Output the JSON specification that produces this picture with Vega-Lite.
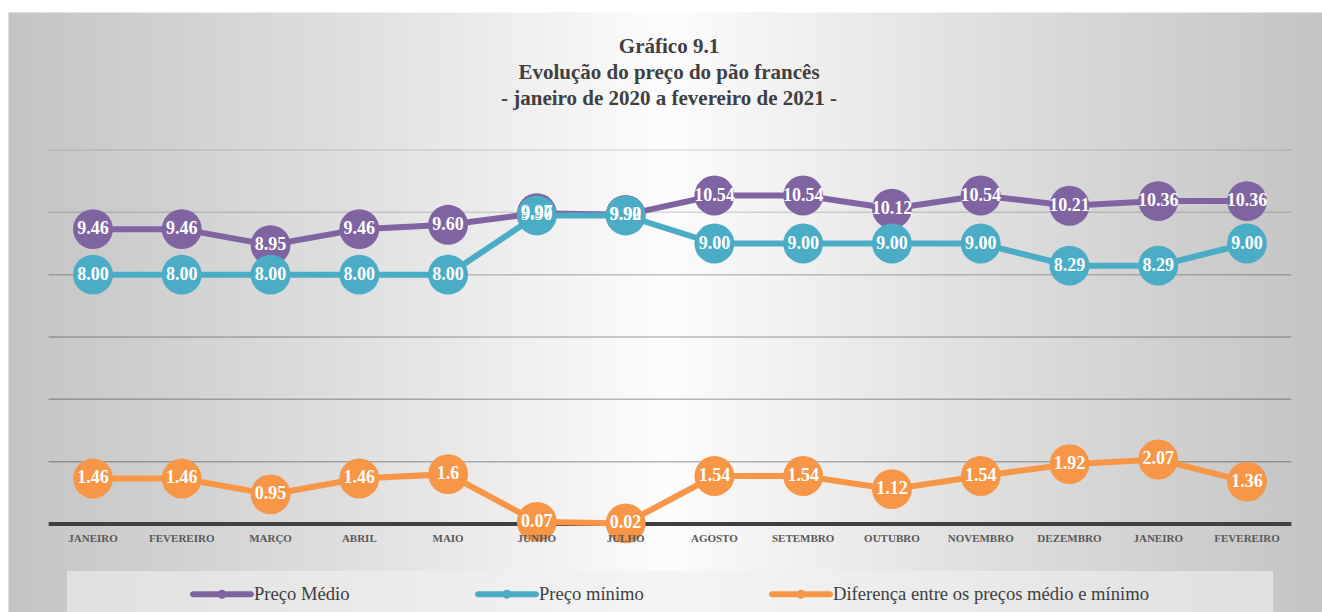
{
  "$schema": "https://vega.github.io/schema/vega-lite/v6.json",
  "width": 1314,
  "height": 600,
  "autosize": {"type": "none"},
  "padding": {"left": 8, "top": 12, "right": 0, "bottom": 0},
  "background": "#ffffff",
  "config": {
    "view": {
      "fill": {"gradient": "linear", "x1": 0, "y1": 0, "x2": 1, "y2": 0,
        "stops": [
          {"offset": 0, "color": "#c4c4c4"},
          {"offset": 0.25, "color": "#dedede"},
          {"offset": 0.5, "color": "#fcfcfc"},
          {"offset": 0.75, "color": "#dedede"},
          {"offset": 1, "color": "#c4c4c4"}
        ]},
      "stroke": "transparent"
    },
    "font": "Liberation Serif"
  },
  "title": {
    "text": ["Gráfico 9.1", "Evolução do preço do pão francês", "- janeiro de 2020 a fevereiro de 2021 -"],
    "anchor": "middle",
    "frame": "group",
    "offset": -97,
    "dx": 4,
    "fontSize": 21,
    "lineHeight": 26,
    "font": "Liberation Serif",
    "fontWeight": "bold",
    "color": "#404040"
  },
  "data": {"values": [
    {"mes": "JANEIRO 2020", "serie": "Preço Médio", "valor": 9.46},
    {"mes": "FEVEREIRO 2020", "serie": "Preço Médio", "valor": 9.46},
    {"mes": "MARÇO 2020", "serie": "Preço Médio", "valor": 8.95},
    {"mes": "ABRIL 2020", "serie": "Preço Médio", "valor": 9.46},
    {"mes": "MAIO 2020", "serie": "Preço Médio", "valor": 9.60},
    {"mes": "JUNHO 2020", "serie": "Preço Médio", "valor": 9.97},
    {"mes": "JULHO 2020", "serie": "Preço Médio", "valor": 9.92},
    {"mes": "AGOSTO 2020", "serie": "Preço Médio", "valor": 10.54},
    {"mes": "SETEMBRO 2020", "serie": "Preço Médio", "valor": 10.54},
    {"mes": "OUTUBRO 2020", "serie": "Preço Médio", "valor": 10.12},
    {"mes": "NOVEMBRO 2020", "serie": "Preço Médio", "valor": 10.54},
    {"mes": "DEZEMBRO 2020", "serie": "Preço Médio", "valor": 10.21},
    {"mes": "JANEIRO 2021", "serie": "Preço Médio", "valor": 10.36},
    {"mes": "FEVEREIRO 2021", "serie": "Preço Médio", "valor": 10.36},
    {"mes": "JANEIRO 2020", "serie": "Preço mínimo", "valor": 8.00},
    {"mes": "FEVEREIRO 2020", "serie": "Preço mínimo", "valor": 8.00},
    {"mes": "MARÇO 2020", "serie": "Preço mínimo", "valor": 8.00},
    {"mes": "ABRIL 2020", "serie": "Preço mínimo", "valor": 8.00},
    {"mes": "MAIO 2020", "serie": "Preço mínimo", "valor": 8.00},
    {"mes": "JUNHO 2020", "serie": "Preço mínimo", "valor": 9.90},
    {"mes": "JULHO 2020", "serie": "Preço mínimo", "valor": 9.90},
    {"mes": "AGOSTO 2020", "serie": "Preço mínimo", "valor": 9.00},
    {"mes": "SETEMBRO 2020", "serie": "Preço mínimo", "valor": 9.00},
    {"mes": "OUTUBRO 2020", "serie": "Preço mínimo", "valor": 9.00},
    {"mes": "NOVEMBRO 2020", "serie": "Preço mínimo", "valor": 9.00},
    {"mes": "DEZEMBRO 2020", "serie": "Preço mínimo", "valor": 8.29},
    {"mes": "JANEIRO 2021", "serie": "Preço mínimo", "valor": 8.29},
    {"mes": "FEVEREIRO 2021", "serie": "Preço mínimo", "valor": 9.00},
    {"mes": "JANEIRO 2020", "serie": "Diferença entre os preços médio e mínimo", "valor": 1.46},
    {"mes": "FEVEREIRO 2020", "serie": "Diferença entre os preços médio e mínimo", "valor": 1.46},
    {"mes": "MARÇO 2020", "serie": "Diferença entre os preços médio e mínimo", "valor": 0.95},
    {"mes": "ABRIL 2020", "serie": "Diferença entre os preços médio e mínimo", "valor": 1.46},
    {"mes": "MAIO 2020", "serie": "Diferença entre os preços médio e mínimo", "valor": 1.6},
    {"mes": "JUNHO 2020", "serie": "Diferença entre os preços médio e mínimo", "valor": 0.07},
    {"mes": "JULHO 2020", "serie": "Diferença entre os preços médio e mínimo", "valor": 0.02},
    {"mes": "AGOSTO 2020", "serie": "Diferença entre os preços médio e mínimo", "valor": 1.54},
    {"mes": "SETEMBRO 2020", "serie": "Diferença entre os preços médio e mínimo", "valor": 1.54},
    {"mes": "OUTUBRO 2020", "serie": "Diferença entre os preços médio e mínimo", "valor": 1.12},
    {"mes": "NOVEMBRO 2020", "serie": "Diferença entre os preços médio e mínimo", "valor": 1.54},
    {"mes": "DEZEMBRO 2020", "serie": "Diferença entre os preços médio e mínimo", "valor": 1.92},
    {"mes": "JANEIRO 2021", "serie": "Diferença entre os preços médio e mínimo", "valor": 2.07},
    {"mes": "FEVEREIRO 2021", "serie": "Diferença entre os preços médio e mínimo", "valor": 1.36}
  ]},
  "layer": [
    {
      "data": {"values": [{}]},
      "mark": {"type": "rule", "stroke": "#000000", "strokeOpacity": 0.1, "strokeWidth": 1.5},
      "encoding": {
        "x": {"datum": "JANEIRO 2020", "type": "nominal", "bandPosition": 0, "scale": {"type": "band", "domain": ["JANEIRO 2020", "FEVEREIRO 2020", "MARÇO 2020", "ABRIL 2020", "MAIO 2020", "JUNHO 2020", "JULHO 2020", "AGOSTO 2020", "SETEMBRO 2020", "OUTUBRO 2020", "NOVEMBRO 2020", "DEZEMBRO 2020", "JANEIRO 2021", "FEVEREIRO 2021"], "paddingInner": 0, "paddingOuter": 0.4012, "align": 0.5702}},
        "x2": {"datum": "FEVEREIRO 2021", "bandPosition": 1},
        "y": {"datum": 12, "type": "quantitative", "axis": null, "scale": {"domain": [-2.8235, 16.428], "nice": false, "zero": false}}
      }
    },
    {
      "data": {"values": [{}]},
      "mark": {"type": "rule", "stroke": "#000000", "strokeOpacity": 0.14, "strokeWidth": 1.5},
      "encoding": {
        "x": {"datum": "JANEIRO 2020", "type": "nominal", "bandPosition": 0},
        "x2": {"datum": "FEVEREIRO 2021", "bandPosition": 1},
        "y": {"datum": 10, "type": "quantitative", "axis": null}
      }
    },
    {
      "data": {"values": [{}]},
      "mark": {"type": "rule", "stroke": "#000000", "strokeOpacity": 0.22, "strokeWidth": 1.5},
      "encoding": {
        "x": {"datum": "JANEIRO 2020", "type": "nominal", "bandPosition": 0},
        "x2": {"datum": "FEVEREIRO 2021", "bandPosition": 1},
        "y": {"datum": 8, "type": "quantitative", "axis": null}
      }
    },
    {
      "data": {"values": [{}]},
      "mark": {"type": "rule", "stroke": "#000000", "strokeOpacity": 0.26, "strokeWidth": 1.5},
      "encoding": {
        "x": {"datum": "JANEIRO 2020", "type": "nominal", "bandPosition": 0},
        "x2": {"datum": "FEVEREIRO 2021", "bandPosition": 1},
        "y": {"datum": 6, "type": "quantitative", "axis": null}
      }
    },
    {
      "data": {"values": [{}]},
      "mark": {"type": "rule", "stroke": "#000000", "strokeOpacity": 0.27, "strokeWidth": 1.5},
      "encoding": {
        "x": {"datum": "JANEIRO 2020", "type": "nominal", "bandPosition": 0},
        "x2": {"datum": "FEVEREIRO 2021", "bandPosition": 1},
        "y": {"datum": 4, "type": "quantitative", "axis": null}
      }
    },
    {
      "data": {"values": [{}]},
      "mark": {"type": "rule", "stroke": "#000000", "strokeOpacity": 0.28, "strokeWidth": 1.5},
      "encoding": {
        "x": {"datum": "JANEIRO 2020", "type": "nominal", "bandPosition": 0},
        "x2": {"datum": "FEVEREIRO 2021", "bandPosition": 1},
        "y": {"datum": 2, "type": "quantitative", "axis": null}
      }
    },
    {
      "data": {"values": [{}]},
      "mark": {"type": "rule", "stroke": "#404040", "strokeWidth": 4},
      "encoding": {
        "x": {"datum": "JANEIRO 2020", "type": "nominal", "bandPosition": 0},
        "x2": {"datum": "FEVEREIRO 2021", "bandPosition": 1},
        "y": {"datum": 0, "type": "quantitative", "axis": null}
      }
    },
    {
      "mark": {"type": "line", "strokeWidth": 6},
      "encoding": {
        "x": {"field": "mes", "type": "nominal", "sort": null,
          "axis": {"orient": "bottom", "offset": -88, "domain": false, "ticks": false, "grid": false, "title": null, "labelAngle": 0, "labelAlign": "center", "labelPadding": 14, "zindex": 1,
            "labelExpr": "split(datum.label, ' ')[0]", "labelFont": "Liberation Serif", "labelFontSize": 11, "labelFontWeight": "bold", "labelColor": "#595959"}},
        "y": {"field": "valor", "type": "quantitative", "axis": null},
        "color": {"field": "serie", "type": "nominal",
          "scale": {"domain": ["Preço Médio", "Preço mínimo", "Diferença entre os preços médio e mínimo"], "range": ["#8064A2", "#4BACC6", "#F79646"]},
          "legend": {
            "orient": "none", "legendX": 59, "legendY": 559, "direction": "horizontal", "columns": 3,
            "title": "\u00a0", "titleOrient": "right", "titlePadding": 111,
            "padding": 13, "fillColor": "rgba(240,240,240,0.6)",
            "symbolType": "M-2.9,-0.3 L2.9,-0.3 A0.3,0.3 0 0 1 2.9,0.3 L-2.9,0.3 A0.3,0.3 0 0 1 -2.9,-0.3 Z M-0.45,0 A0.45,0.45 0 1 1 0.45,0 A0.45,0.45 0 1 1 -0.45,0 Z",
            "symbolSize": 400, "symbolOffset": 132, "labelOffset": 22, "columnPadding": 15, "symbolStrokeWidth": 0,
            "labelFont": "Liberation Serif", "labelFontSize": 18.6, "labelColor": "#404040", "labelLimit": 500
          }
        }
      }
    },
    {
      "mark": {"type": "point", "filled": true, "shape": "circle", "size": 1590, "opacity": 1},
      "encoding": {
        "x": {"field": "mes", "type": "nominal", "sort": null},
        "y": {"field": "valor", "type": "quantitative", "axis": null},
        "color": {"field": "serie", "type": "nominal",
          "legend": {
            "orient": "none", "legendX": 59, "legendY": 559, "direction": "horizontal", "columns": 3,
            "title": "\u00a0", "titleOrient": "right", "titlePadding": 111,
            "padding": 13, "fillColor": "rgba(240,240,240,0.6)",
            "symbolType": "M-2.9,-0.3 L2.9,-0.3 A0.3,0.3 0 0 1 2.9,0.3 L-2.9,0.3 A0.3,0.3 0 0 1 -2.9,-0.3 Z M-0.45,0 A0.45,0.45 0 1 1 0.45,0 A0.45,0.45 0 1 1 -0.45,0 Z",
            "symbolSize": 400, "symbolOffset": 132, "labelOffset": 22, "columnPadding": 15, "symbolStrokeWidth": 0,
            "labelFont": "Liberation Serif", "labelFontSize": 18.6, "labelColor": "#404040", "labelLimit": 500
          }
        }
      }
    },
    {
      "transform": [{"filter": "datum.serie !== 'Diferença entre os preços médio e mínimo'"}],
      "mark": {"type": "text", "color": "#ffffff", "font": "Liberation Serif", "fontWeight": "bold", "fontSize": 18, "align": "center", "baseline": "middle"},
      "encoding": {
        "x": {"field": "mes", "type": "nominal", "sort": null},
        "y": {"field": "valor", "type": "quantitative", "axis": null},
        "text": {"field": "valor", "type": "quantitative", "format": ".2f"}
      }
    },
    {
      "transform": [{"filter": "datum.serie === 'Diferença entre os preços médio e mínimo'"}],
      "mark": {"type": "text", "color": "#ffffff", "font": "Liberation Serif", "fontWeight": "bold", "fontSize": 18, "align": "center", "baseline": "middle"},
      "encoding": {
        "x": {"field": "mes", "type": "nominal", "sort": null},
        "y": {"field": "valor", "type": "quantitative", "axis": null},
        "text": {"field": "valor", "type": "quantitative", "format": ".2~f"}
      }
    }
  ]
}
